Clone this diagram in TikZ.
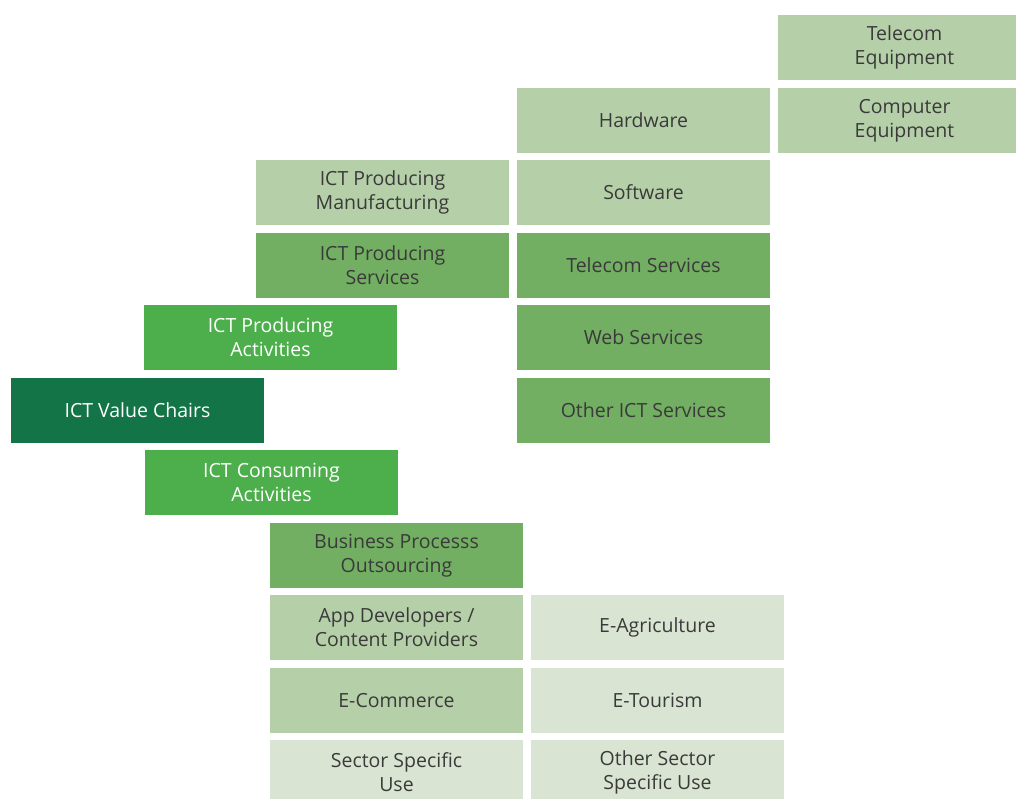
\documentclass[tikz,border=0pt]{standalone}
\usepackage{fontspec}
\setmainfont{Open Sans}
\definecolor{darkgreen}{HTML}{137447}
\definecolor{brightgreen}{HTML}{4CAF4B}
\definecolor{midgreen}{HTML}{72AF62}
\definecolor{lightgreen}{HTML}{B5D0A8}
\definecolor{palegreen}{HTML}{D9E5D2}
\definecolor{textgray}{HTML}{3A3A3A}
\tikzset{%
  chain/.style = {
    x=1pt, y=-1pt,
    every node/.style = {shape=rectangle, align=center,
      minimum width=253pt, minimum height=65pt, inner sep=0pt,
      font=\fontsize{19.5}{24}\selectfont, text=textgray}
  },
  rootbox/.style = {fill=darkgreen, text=white},
  activitybox/.style = {fill=brightgreen, text=white},
  servicebox/.style = {fill=midgreen},
  itembox/.style = {fill=lightgreen},
  usebox/.style = {fill=palegreen}
}

\begin{document}
\begin{tikzpicture}[chain]
  \useasboundingbox (0,0) rectangle (1016,798);
  \begin{scope}
  \clip (0,0) rectangle (1016,798);
  % producing side
  \node[itembox] (telecomeq) at (904.5,47.5) {Telecom\\Equipment};
  \node[itembox] (computereq) at (904.5,120.5) {Computer\\Equipment};
  \node[itembox] (hardware) at (643.5,120.5) {Hardware};
  \node[itembox] (software) at (643.5,192.5) {Software};
  \node[itembox] (manufacturing) at (382.5,192.5) {ICT Producing\\Manufacturing};
  \node[servicebox] (prodservices) at (382.5,265.5) {ICT Producing\\Services};
  \node[servicebox] (telecomsv) at (643.5,265.5) {Telecom Services};
  \node[activitybox] (producing) at (270.5,337.5) {ICT Producing\\Activities};
  \node[servicebox] (websv) at (643.5,337.5) {Web Services};
  % root
  \node[rootbox] (valuechain) at (137.5,410.5) {ICT Value Chairs};
  \node[servicebox] (othersv) at (643.5,410.5) {Other ICT Services};
  % consuming side
  \node[activitybox] (consuming) at (271.5,482.5) {ICT Consuming\\Activities};
  \node[servicebox] (bpo) at (396.5,555.5) {Business Processs\\Outsourcing};
  \node[itembox] (appdev) at (396.5,627.5) {App Developers /\\Content Providers};
  \node[usebox] (eagri) at (657.5,627.5) {E-Agriculture};
  \node[itembox] (ecommerce) at (396.5,700.5) {E-Commerce};
  \node[usebox] (etourism) at (657.5,700.5) {E-Tourism};
  \node[usebox] (sectoruse) at (396.5,772.5) {Sector Specific\\Use};
  \node[usebox] (othersector) at (657.5,772.5) {Other Sector\\Specific Use};
  \end{scope}
\end{tikzpicture}
\end{document}
